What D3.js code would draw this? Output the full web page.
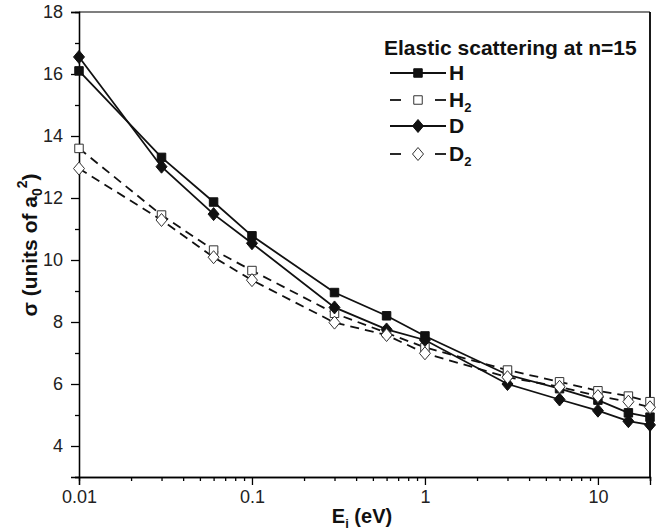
<!DOCTYPE html>
<html><head><meta charset="utf-8">
<script src="https://cdn.jsdelivr.net/npm/d3@7"></script>
<style>body{margin:0;background:#fff}svg{display:block}text{font-family:"Liberation Sans",Arial,sans-serif}</style>
</head><body><svg id="c" width="656" height="532"></svg>
<script>
const energies = [0.01, 0.03, 0.06, 0.1, 0.3, 0.6, 1, 3, 6, 10, 15, 20];
const sigmaH  = [16.1, 13.31, 11.87, 10.78, 8.95, 8.2, 7.55, 6.3, 5.85, 5.48, 5.07, 4.93];
const sigmaH2 = [13.6, 11.45, 10.32, 9.66, 8.28, 7.65, 7.18, 6.45, 6.07, 5.78, 5.61, 5.43];
const sigmaD  = [16.55, 13.01, 11.48, 10.54, 8.47, 7.76, 7.42, 6.0, 5.5, 5.14, 4.8, 4.68];
const sigmaD2 = [12.95, 11.29, 10.09, 9.35, 7.98, 7.58, 6.99, 6.22, 5.91, 5.61, 5.43, 5.25];
const seriesNames = ["H", "H2", "D", "D2"];
const xTickLabels = ["0.01", "0.1", "1", "10"];
const yTickLabels = ["4", "6", "8", "10", "12", "14", "16", "18"];

const svg = d3.select("#c");
const L = 79, R = 650, T = 12, B = 477;
const x = d3.scaleLog().domain([0.01, 20]).range([L, R]);
const y = d3.scaleLinear().domain([3, 18]).range([B, T]);

const font = '"Liberation Sans",Arial,sans-serif';

// frame top/right
svg.append("line").attr("x1", L).attr("x2", R).attr("y1", T).attr("y2", T).attr("stroke", "#000").attr("stroke-width", 1.2);
svg.append("line").attr("x1", R).attr("x2", R).attr("y1", T).attr("y2", B).attr("stroke", "#000").attr("stroke-width", 1.8);

// x axis
const xMajor = xTickLabels.map(Number);
const xMinor = [];
[0.01, 0.1, 1, 10].forEach(d => { for (let k = 2; k <= 9; k++) { const v = d * k; if (v <= 20.0001) xMinor.push(v); } });
const gx = svg.append("g").attr("transform", `translate(0,${B})`);
gx.call(d3.axisBottom(x).tickValues(xMinor).tickSize(4).tickFormat(""));
gx.call(g => g.append("g").call(d3.axisBottom(x).tickValues(xMajor).tickSize(8).tickPadding(5).tickFormat((d, i) => xTickLabels[i])));
gx.selectAll(".domain").attr("stroke-width", 1.3);
gx.selectAll("line").attr("stroke-width", 1.3);
gx.selectAll("text").attr("font-size", 18).attr("font-family", font).attr("fill", "#222");

// y axis
const yMajor = yTickLabels.map(Number);
const yMinor = d3.range(3, 18, 2);
const gy = svg.append("g").attr("transform", `translate(${L},0)`);
gy.call(d3.axisLeft(y).tickValues(yMinor).tickSize(4).tickFormat(""));
gy.call(g => g.append("g").call(d3.axisLeft(y).tickValues(yMajor).tickSize(8).tickPadding(8).tickFormat((d, i) => yTickLabels[i])));
gy.selectAll(".domain").attr("stroke-width", 1.3);
gy.selectAll("line").attr("stroke-width", 1.3);
gy.selectAll("text").attr("font-size", 18).attr("font-family", font).attr("fill", "#222");

// axis titles
const xt = svg.append("text").attr("x", 362).attr("y", 523).attr("text-anchor", "middle")
  .attr("font-size", 20).attr("font-weight", "bold").attr("fill", "#111");
xt.append("tspan").text("E");
xt.append("tspan").text("i").attr("font-size", 13).attr("dy", 5);
xt.append("tspan").text(" (eV)").attr("dy", -5);

const yt = svg.append("text").attr("transform", "translate(37,245) rotate(-90)").attr("text-anchor", "middle")
  .attr("font-size", 21).attr("font-weight", "bold").attr("fill", "#111");
yt.append("tspan").text("σ (units of a");
yt.append("tspan").text("0").attr("font-size", 14).attr("dy", 5);
yt.append("tspan").text("2").attr("font-size", 14).attr("dy", -15);
yt.append("tspan").text(")").attr("dy", 10);

const series = [
  {name: "H", vals: sigmaH, dash: null, shape: "square", fill: "#111"},
  {name: "H2", vals: sigmaH2, dash: "9,6", shape: "square", fill: "#fff"},
  {name: "D", vals: sigmaD, dash: null, shape: "diamond", fill: "#111"},
  {name: "D2", vals: sigmaD2, dash: "9,6", shape: "diamond", fill: "#fff"}
];
const line = d3.line().x(d => x(d[0])).y(d => y(d[1]));
const symSquare = d3.symbol().type(d3.symbolSquare).size(72)();
const symDiamond = "M0,-6.5L5.5,0L0,6.5L-5.5,0Z";

function drawMarker(g, cx, cy, s) {
  g.append("path").attr("d", s.shape === "square" ? symSquare : symDiamond)
    .attr("transform", `translate(${cx},${cy})`)
    .attr("fill", s.fill).attr("stroke", s.fill === "#fff" ? "#333" : "#111").attr("stroke-width", 1);
}

const plot = svg.append("g");
series.forEach(s => {
  const pts = energies.map((e, i) => [e, s.vals[i]]);
  plot.append("path").attr("d", line(pts)).attr("fill", "none").attr("stroke", "#111")
    .attr("stroke-width", 1.8).attr("stroke-dasharray", s.dash);
});
series.forEach(s => {
  const g = plot.append("g");
  energies.forEach((e, i) => drawMarker(g, x(e), y(s.vals[i]), s));
});

// legend
const lg = svg.append("g");
lg.append("text").attr("x", 384).attr("y", 55).attr("font-size", 21).attr("font-weight", "bold")
  .attr("fill", "#111").text("Elastic scattering at n=15");
const rowsY = [73, 100, 126, 154];
series.forEach((s, i) => {
  const cy = rowsY[i];
  if (s.dash) {
    lg.append("line").attr("x1", 390).attr("x2", 401).attr("y1", cy).attr("y2", cy).attr("stroke", "#111").attr("stroke-width", 1.8);
    lg.append("line").attr("x1", 435).attr("x2", 446).attr("y1", cy).attr("y2", cy).attr("stroke", "#111").attr("stroke-width", 1.8);
  } else {
    lg.append("line").attr("x1", 390).attr("x2", 446).attr("y1", cy).attr("y2", cy).attr("stroke", "#111").attr("stroke-width", 1.8);
  }
  drawMarker(lg, 418, cy, s);
  const t = lg.append("text").attr("x", 449).attr("y", cy + 7).attr("font-size", 21).attr("font-weight", "bold").attr("fill", "#111");
  t.append("tspan").text(s.name[0]);
  if (s.name.length > 1) t.append("tspan").text(s.name.slice(1)).attr("font-size", 13).attr("dy", 5);
});
</script></body></html>
